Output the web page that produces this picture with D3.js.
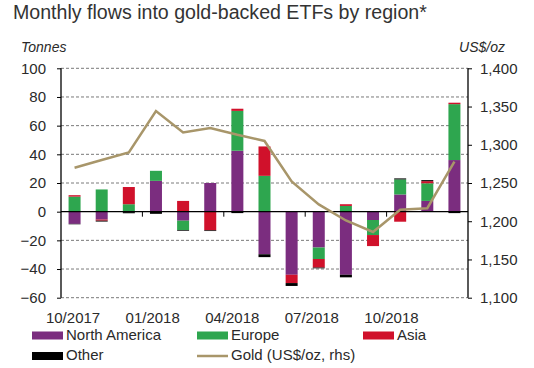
<!DOCTYPE html>
<html><head><meta charset="utf-8">
<script src="https://cdn.jsdelivr.net/npm/d3@7"></script>
<style>
body{margin:0;background:#fff;}
text{font-family:"Liberation Sans",Arial,Helvetica,sans-serif;fill:#2a2a2a;}
</style></head>
<body><svg id="c" width="534" height="368"></svg>
<script>
const months = ["10/2017","11/2017","12/2017","01/2018","02/2018","03/2018","04/2018","05/2018","06/2018","07/2018","08/2018","09/2018","10/2018","11/2018","12/2018"];
const xTickLabels = ["10/2017","01/2018","04/2018","07/2018","10/2018"];
const northAmerica = [-8.5,-5.5,-0.3,21.5,-6.3,20,42.5,-29.7,-44,-25,-44,-5.8,12,7.5,36];
const europe       = [10.5,15.5,5.2,7,-6.5,0,27.8,25,0,-8,4,-10.5,10.5,12.3,39];
const asia         = [1,-0.8,12,0,7.5,-13,1.5,20.5,-5.8,-6,1.2,-7.7,-7,1.5,1];
const other        = [-0.3,-0.6,-0.8,-1.5,-0.5,-0.5,-1,-2,-2,-0.5,-1.8,0,0.7,0.7,-1];
const gold         = [1270,1280,1290,1344,1316,1322,1313,1305,1252,1222,1201,1186,1215,1217,1278];
const leftTicks = [100,80,60,40,20,0,-20,-40,-60];
const rightTicks = [1100,1150,1200,1250,1300,1350,1400];

const seriesNames = ["North America","Europe","Asia","Other"];
const colors = {"North America":"#7b2d7f","Europe":"#2ea64f","Asia":"#d0112b","Other":"#000000"};
const goldColor = "#a8966a";

const svg = d3.select("#c");
const L = 61, R = 468, T = 68.3, B = 297.7;

const x = d3.scaleBand().domain(months).range([L, R]).paddingInner(0).paddingOuter(0);
const y = d3.scaleLinear().domain([-60,100]).range([B, T]);
const y2 = d3.scaleLinear().domain([1100,1400]).range([B, T]);

const table = months.map((m,i)=>({month:m,"North America":northAmerica[i],"Europe":europe[i],"Asia":asia[i],"Other":other[i]}));
const stack = d3.stack().keys(seriesNames).offset(d3.stackOffsetDiverging);
const series = stack(table);

// title
svg.append("text").attr("x",13).attr("y",19).attr("font-size","19.6px").style("fill","#333")
  .text("Monthly flows into gold-backed ETFs by region*");
svg.append("text").attr("x",21).attr("y",52).attr("font-size","14px").attr("font-style","italic").text("Tonnes");
svg.append("text").attr("x",505).attr("y",52).attr("font-size","14px").attr("font-style","italic").attr("text-anchor","end").text("US$/oz");

// gridlines
svg.append("g").selectAll("line").data(leftTicks.filter(d=>d!==0)).join("line")
  .attr("x1",L).attr("x2",R).attr("y1",d=>y(d)).attr("y2",d=>y(d))
  .attr("stroke","#7a7a7a").attr("stroke-width",1).attr("stroke-dasharray","3,2");

// bars
const bw = 12;
svg.append("g").selectAll("g").data(series).join("g").attr("fill",d=>colors[d.key])
  .selectAll("rect").data(d=>d).join("rect")
  .attr("x",d=>x(d.data.month)+x.bandwidth()/2-bw/2).attr("width",bw)
  .attr("y",d=>y(Math.max(d[0],d[1]))).attr("height",d=>Math.abs(y(d[0])-y(d[1])));

// zero line
svg.append("line").attr("x1",L).attr("x2",R).attr("y1",y(0)).attr("y2",y(0)).attr("stroke","#000").attr("stroke-width",1.2);
const qIdx = [3,6,9,12];
svg.append("g").selectAll("line").data(qIdx).join("line")
  .attr("x1",i=>x(months[i])).attr("x2",i=>x(months[i])).attr("y1",y(0)).attr("y2",y(0)+5)
  .attr("stroke","#000").attr("stroke-width",1);

// gold line
const line = d3.line().x((d,i)=>x(months[i])+x.bandwidth()/2).y(d=>y2(d));
svg.append("path").datum(gold).attr("d",line).attr("fill","none").attr("stroke",goldColor).attr("stroke-width",2.5);

// left axis
const axL = svg.append("g").attr("transform",`translate(${L},0)`)
  .call(d3.axisLeft(y).tickValues(leftTicks).tickSize(4).tickPadding(11).tickFormat(d3.format("d")));
axL.selectAll("text").attr("font-size","15px").style("font-family","Liberation Sans, Arial, sans-serif").style("fill","#2a2a2a");

// right axis
const axR = svg.append("g").attr("transform",`translate(${R},0)`)
  .call(d3.axisRight(y2).tickValues(rightTicks).tickSize(4).tickPadding(8).tickFormat(d3.format(",")));
axR.selectAll("text").attr("font-size","15px").style("font-family","Liberation Sans, Arial, sans-serif").style("fill","#2a2a2a");
axL.select(".domain").attr("d",`M0,${T}V${B}`).attr("stroke","#000").attr("stroke-width",1.3);
axR.select(".domain").attr("d",`M0,${T}V${B}`).attr("stroke","#000").attr("stroke-width",1.3);

// x labels
svg.append("g").selectAll("text").data(xTickLabels).join("text")
  .attr("x",d=>{const i=months.indexOf(d);return x(d)+x.bandwidth()/2-1.5-0.6*i;})
  .attr("y",323).attr("text-anchor","middle").attr("font-size","15px").text(d=>d);

// legend
const leg = [
  {name:"North America",x:32,y:339.5,type:"rect"},
  {name:"Europe",x:197,y:339.5,type:"rect"},
  {name:"Asia",x:363,y:339.5,type:"rect"},
  {name:"Other",x:32,y:360,type:"rect"},
  {name:"Gold (US$/oz, rhs)",x:197,y:360,type:"line"}
];
const lg = svg.append("g");
leg.forEach(d=>{
  if(d.type==="rect"){
    lg.append("rect").attr("x",d.x).attr("y",d.y-8).attr("width",31).attr("height",8).attr("fill",colors[d.name]);
  } else {
    lg.append("line").attr("x1",d.x).attr("x2",d.x+31).attr("y1",d.y-4).attr("y2",d.y-4).attr("stroke",goldColor).attr("stroke-width",2.5);
  }
  lg.append("text").attr("x",d.x+34).attr("y",d.y).attr("font-size","15px").text(d.name);
});
</script></body></html>
